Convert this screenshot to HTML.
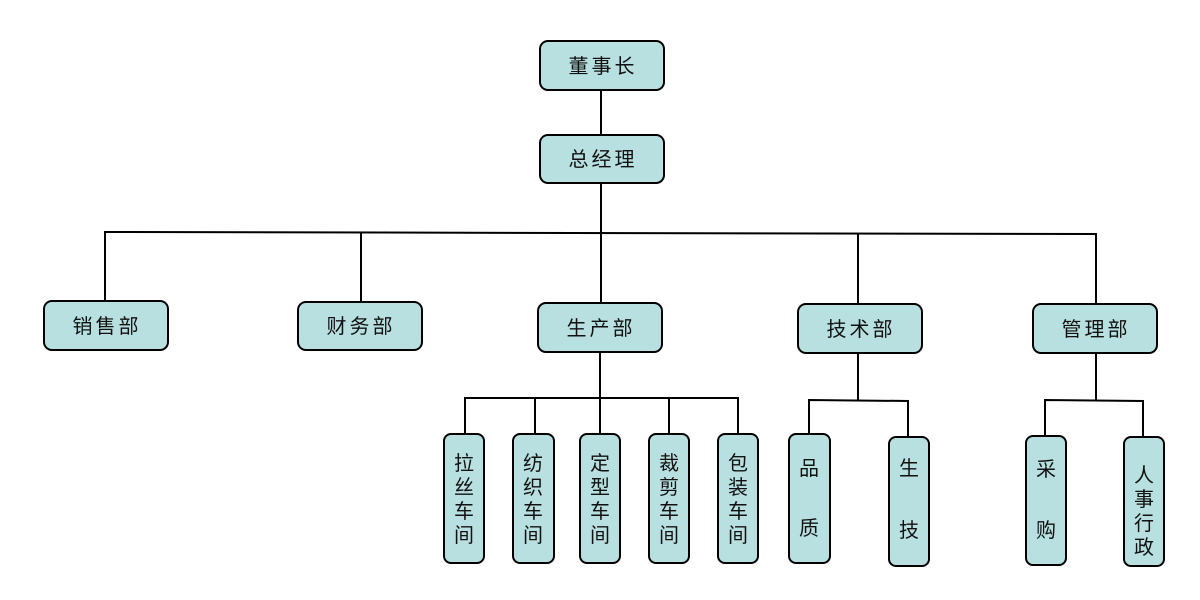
<!DOCTYPE html>
<html><head><meta charset="utf-8"><style>
html,body{margin:0;padding:0;background:#fff;width:1200px;height:600px;overflow:hidden}
svg text{font-family:"Liberation Sans","Noto Sans CJK SC","WenQuanYi Zen Hei",sans-serif;fill:#111}
</style></head><body>
<svg width="1200" height="600" viewBox="0 0 1200 600" xmlns="http://www.w3.org/2000/svg">
<g stroke="#000" stroke-width="2" fill="none">
<line x1="601" y1="90" x2="601" y2="135"/>
<line x1="601" y1="183" x2="601" y2="233"/>
<polyline points="105,301 105,232 1096,234 1096,304"/>
<line x1="361" y1="232" x2="361" y2="302"/>
<line x1="601" y1="233" x2="601" y2="303"/>
<line x1="858" y1="233" x2="858" y2="304"/>
<line x1="600" y1="352" x2="600" y2="398"/>
<polyline points="465,434 465,398 738,398 738,434"/>
<line x1="535" y1="398" x2="535" y2="434"/>
<line x1="600" y1="398" x2="600" y2="434"/>
<line x1="669" y1="398" x2="669" y2="434"/>
<line x1="858" y1="353" x2="858" y2="400"/>
<polyline points="809,434 809,400 908,401 908,437"/>
<line x1="1096" y1="353" x2="1096" y2="400"/>
<polyline points="1045,436 1045,400 1143,401 1143,437"/>
</g>
<g fill="#b8e0e0" stroke="#000" stroke-width="2">
<rect x="540" y="41" width="124" height="49" rx="8"/>
<rect x="540" y="135" width="124" height="48" rx="8"/>
<rect x="44" y="301" width="124" height="49" rx="8"/>
<rect x="298" y="302" width="124" height="48" rx="8"/>
<rect x="538" y="303" width="124" height="49" rx="8"/>
<rect x="798" y="304" width="124" height="49" rx="8"/>
<rect x="1033" y="304" width="124" height="49" rx="8"/>
<rect x="444" y="434" width="40" height="129" rx="7"/>
<rect x="513" y="434" width="41" height="129" rx="7"/>
<rect x="580" y="434" width="40" height="129" rx="7"/>
<rect x="649" y="434" width="40" height="129" rx="7"/>
<rect x="718" y="434" width="40" height="129" rx="7"/>
<rect x="789" y="434" width="41" height="129" rx="7"/>
<rect x="889" y="437" width="40" height="129" rx="7"/>
<rect x="1026" y="436" width="40" height="129" rx="7"/>
<rect x="1124" y="437" width="40" height="129" rx="7"/>
</g>
<g font-size="20" text-anchor="middle" letter-spacing="3">
<text x="603" y="73">董事长</text>
<text x="603" y="166">总经理</text>
<text x="107" y="333">销售部</text>
<text x="361" y="333">财务部</text>
<text x="601" y="335">生产部</text>
<text x="861" y="336">技术部</text>
<text x="1096" y="336">管理部</text>
</g>
<g font-size="20" text-anchor="middle">
<text x="464" y="470">拉</text><text x="464" y="494">丝</text><text x="464" y="518">车</text><text x="464" y="542">间</text>
<text x="533" y="470">纺</text><text x="533" y="494">织</text><text x="533" y="518">车</text><text x="533" y="542">间</text>
<text x="600" y="470">定</text><text x="600" y="494">型</text><text x="600" y="518">车</text><text x="600" y="542">间</text>
<text x="669" y="470">裁</text><text x="669" y="494">剪</text><text x="669" y="518">车</text><text x="669" y="542">间</text>
<text x="738" y="470">包</text><text x="738" y="494">装</text><text x="738" y="518">车</text><text x="738" y="542">间</text>
<text x="809" y="475">品</text><text x="809" y="535">质</text>
<text x="909" y="475">生</text><text x="909" y="537">技</text>
<text x="1046" y="476">采</text><text x="1046" y="537">购</text>
<text x="1144" y="482">人</text><text x="1144" y="506">事</text><text x="1144" y="530">行</text><text x="1144" y="554">政</text>
</g>
</svg>
</body></html>
